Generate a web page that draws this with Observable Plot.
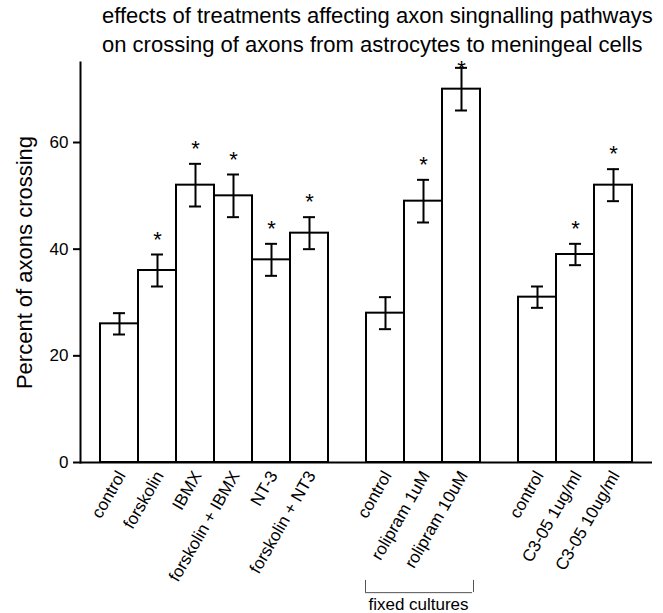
<!DOCTYPE html>
<html>
<head>
<meta charset="utf-8">
<script src="https://cdn.jsdelivr.net/npm/d3@7"></script>
<script src="https://cdn.jsdelivr.net/npm/@observablehq/plot@0.6"></script>
<style>
  html, body { margin: 0; padding: 0; background: #fff; }
  #wrap { position: relative; width: 663px; height: 613px; }
  #wrap svg { position: absolute; left: 0; top: 0; }
  #title {
    position: absolute; left: 102px; top: 2px;
    font-family: "Liberation Sans", Arial, sans-serif; font-size: 22px;
    line-height: 28.5px; color: #000; white-space: nowrap;
  }
</style>
</head>
<body>
<div id="wrap">
  <div id="title">effects of treatments affecting axon singnalling pathways<br>on crossing of axons from astrocytes to meningeal cells</div>
</div>
<script>
// ---- data ----
const categories = ["control", "forskolin", "IBMX", "forskolin + IBMX", "NT-3", "forskolin + NT3",
                    "control", "rolipram 1uM", "rolipram 10uM",
                    "control", "C3-05 1ug/ml", "C3-05 10ug/ml"];
const groups = [1, 1, 1, 1, 1, 1, 2, 2, 2, 3, 3, 3];
const means = [26, 36, 52, 50, 38, 43, 28, 49, 70, 31, 39, 52];
const errors = [2, 3, 4, 4, 3, 3, 3, 4, 4, 2, 2, 3];
const significant = [false, true, true, true, true, true, false, true, true, false, true, true];
const yTicks = [0, 20, 40, 60];
const yLabel = "Percent of axons crossing";
const bracketLabel = "fixed cultures";
const bracketGroup = 2;

// ---- build table ----
const data = categories.map((label, i) => ({
  key: groups[i] + ":" + label,
  label, group: groups[i], mean: means[i], err: errors[i], sig: significant[i]
}));
const labelOf = new Map(data.map(d => [d.key, d.label]));
const domain = [];
[1, 2, 3].forEach((g, gi) => {
  if (gi > 0) domain.push("gap" + gi);
  data.filter(d => d.group === g).forEach(d => domain.push(d.key));
});
const bracketKeys = data.filter(d => d.group === bracketGroup).map(d => d.key);
const bracketY = [-22.1, -24.4];
const bracketTextY = -27.6;

const font = '"Liberation Sans", Arial, sans-serif';

const chart = Plot.plot({
  width: 663,
  height: 613,
  marginLeft: 80,
  marginRight: 11,
  marginTop: 62,
  marginBottom: 151,
  style: { fontFamily: font, background: "transparent", color: "#000" },
  x: { type: "band", domain, paddingInner: 0, paddingOuter: 0.5, axis: null },
  y: { domain: [0, 75], axis: null },
  marks: [
    Plot.barY(data, { x: "key", y: "mean", fill: "white", stroke: "#000", strokeWidth: 2 }),
    Plot.ruleX(data, { x: "key", y1: d => d.mean - d.err, y2: d => d.mean + d.err, stroke: "#000", strokeWidth: 2 }),
    Plot.tickY(data, { x: "key", y: d => d.mean + d.err, insetLeft: 13, insetRight: 13, stroke: "#000", strokeWidth: 2 }),
    Plot.tickY(data, { x: "key", y: d => d.mean - d.err, insetLeft: 13, insetRight: 13, stroke: "#000", strokeWidth: 2 }),
    Plot.text(data.filter(d => d.sig), {
      x: "key", y: d => Math.min(d.mean + d.err + 3.7, 74.7), text: () => "*",
      fontSize: 22, dy: 5, fill: "#000"
    }),
    Plot.ruleY([0], { stroke: "#000", strokeWidth: 2 }),
    Plot.frame({ anchor: "left", stroke: "#000", strokeWidth: 2 }),
    Plot.axisY({ ticks: yTicks, tickSize: 7, tickPadding: 5, fontSize: 17, label: null, strokeWidth: 2 }),
    Plot.axisX({
      ticks: data.map(d => d.key), tickFormat: k => labelOf.get(k),
      tickRotate: -60, tickSize: 0, tickPadding: 10, fontSize: 17, label: null, dx: 2
    }),
    Plot.text([yLabel], {
      frameAnchor: "left", textAnchor: "middle", rotate: -90, dx: -56, fontSize: 22, fill: "#000"
    }),
    // bracket for fixed cultures
    Plot.ruleY([bracketY[1]], {
      x1: () => bracketKeys[0], x2: () => bracketKeys[bracketKeys.length - 1],
      insetLeft: -1, insetRight: 8, stroke: "#555", strokeWidth: 1
    }),
    Plot.ruleX([bracketKeys[0]], { x: d => d, y1: bracketY[0], y2: bracketY[1], dx: -20, stroke: "#555", strokeWidth: 1 }),
    Plot.ruleX([bracketKeys[bracketKeys.length - 1]], { x: d => d, y1: bracketY[0], y2: bracketY[1], dx: 12, stroke: "#555", strokeWidth: 1 }),
    Plot.text([bracketLabel], {
      x: () => bracketKeys[1], y: () => bracketTextY, dx: -5,
      lineAnchor: "bottom", fontSize: 17, fill: "#000"
    })
  ]
});
document.getElementById("wrap").prepend(chart);
</script>
</body>
</html>
